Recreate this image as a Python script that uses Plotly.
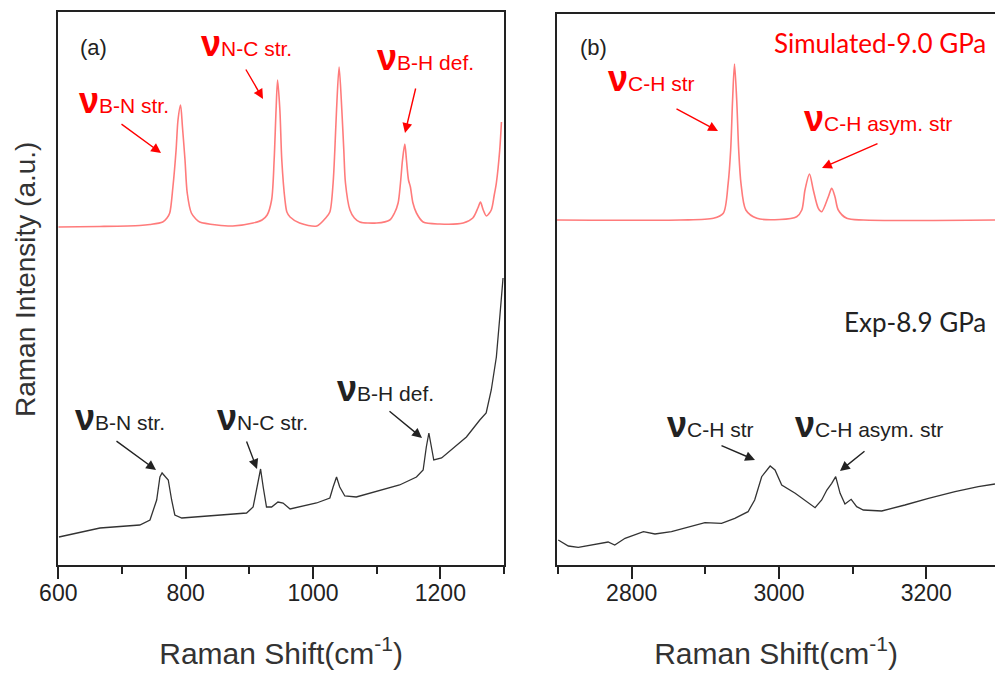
import plotly.graph_objects as go

# ---- spectra (Raman shift in cm^-1, intensity in arbitrary units) ----
# (a) low-frequency region
sim_a_shift = [600, 665, 728, 744, 764, 770.7, 775, 780, 785, 788, 792, 795, 799, 802.5, 809, 816,
               822, 849, 874, 906, 920, 928, 935, 939, 942, 944.4, 948, 951, 956, 959, 964, 979,
               1006, 1020, 1026.5, 1031.6, 1034.3, 1037, 1041, 1045.3, 1048.4, 1051, 1058, 1065,
               1073.5, 1100, 1120.6, 1128, 1133.7, 1137.4, 1140.6, 1144.2, 1146.8, 1150, 1153,
               1157, 1162.5, 1173, 1199, 1236, 1251, 1259, 1263, 1267.4, 1272.4, 1280, 1284.7,
               1288, 1293.3, 1296]
sim_a_int = [338, 338.5, 339.5, 340.5, 343, 347, 352, 378, 415, 445, 460, 438, 405, 372, 352, 346,
             343, 340, 339, 342, 345, 350, 365, 405, 455, 485, 455, 405, 365, 353, 348, 342,
             339, 347, 353, 382, 415, 455, 498, 455, 415, 382, 355, 347,
             343, 342, 345, 352, 362, 382, 405, 421, 405, 385, 378,
             362, 352, 343, 341, 342, 347, 357, 363, 355, 349, 355, 370,
             382, 415, 443]

exp_a_shift = [601, 665.5, 728, 744, 754.5, 759.6, 763, 768.6, 772.7, 778, 783, 794, 848.6, 895.7,
               906, 912.4, 917.7, 921.8, 927, 935, 945, 953, 964, 1005.6, 1026.5, 1031.6, 1037,
               1042, 1050, 1068, 1110, 1136, 1162.5, 1173, 1178, 1182, 1186, 1189.7, 1202, 1220,
               1241, 1262, 1272, 1280, 1288, 1293, 1296, 1298.5]
exp_a_int = [28, 37, 40, 45, 65, 88, 92, 88, 85, 65, 50, 47, 50, 52,
             58, 78, 96, 78, 58, 58, 63, 62, 56, 62, 67, 78, 88,
             78, 69, 68, 75, 80, 88, 95, 118, 132, 118, 105, 107, 117,
             128, 145, 152, 175, 208, 245, 265, 287]

# (b) C-H stretching region
sim_b_shift = [2698.6, 2865.6, 2911, 2924.4, 2931, 2934.4, 2937, 2939.6, 2942.6, 2945.3, 2948.4,
               2955, 2970, 3001, 3024, 3031, 3035.3, 3041.4, 3046.6, 3053.4, 3058, 3067, 3071.6,
               3076, 3080.5, 3092, 3114.5, 3293.3]
sim_b_int = [345, 345, 346.7, 351.7, 381.7, 415, 465, 501, 465, 415, 381.7,
             355, 346.7, 345.5, 348.3, 355, 375, 391, 375, 356.7, 353.3, 368.3, 376.7,
             368.3, 355, 346.7, 345, 345]

exp_b_shift = [2700.3, 2714, 2727.5, 2750, 2768, 2777, 2791, 2816, 2831.6, 2854, 2877, 2899.5,
               2922, 2940, 2958, 2967, 2976.5, 2988, 2994.6, 3003.7, 3022, 3040, 3049, 3058,
               3065, 3071.6, 3077, 3083, 3089.6, 3098, 3105.5, 3114.5, 3139.5, 3171, 3203,
               3239, 3270.6, 3293.3]
exp_b_int = [25, 19, 17.7, 21, 23, 20, 26.7, 33.3, 31, 33.3, 37.7, 42.3,
             41.7, 46.7, 53.3, 65, 88.3, 99, 95, 80, 71.7, 61.7, 57.3, 65,
             75, 81.7, 88.3, 71.7, 61, 65.7, 58.3, 55, 54, 60, 66.7,
             73.3, 78.3, 81]

# ---- styling ----
W, H = 995, 673
SIM_COLOR = "#ff7b7b"
EXP_COLOR = "#333333"
RED = "#ff0000"
INK = "#222222"
ARIAL = "Liberation Sans, Arial, sans-serif"
CALIBRI = "Lato, Carlito, sans-serif"

fig = go.Figure()
fig.add_trace(go.Scatter(x=sim_a_shift, y=sim_a_int, mode="lines", xaxis="x", yaxis="y",
                         line=dict(color=SIM_COLOR, width=1.6, shape="spline", smoothing=0.8)))
fig.add_trace(go.Scatter(x=exp_a_shift, y=exp_a_int, mode="lines", xaxis="x", yaxis="y",
                         line=dict(color=EXP_COLOR, width=1.3)))
fig.add_trace(go.Scatter(x=sim_b_shift, y=sim_b_int, mode="lines", xaxis="x2", yaxis="y2",
                         line=dict(color=SIM_COLOR, width=1.6, shape="spline", smoothing=0.8)))
fig.add_trace(go.Scatter(x=exp_b_shift, y=exp_b_int, mode="lines", xaxis="x2", yaxis="y2",
                         line=dict(color=EXP_COLOR, width=1.3)))


def px(x):
    return x / W


def py(y):
    return 1 - y / H


xcommon = dict(showline=True, linecolor=INK, linewidth=2, mirror=True, ticks="outside",
               ticklen=12, tickwidth=1.5, tickcolor=INK, showgrid=False, zeroline=False,
               automargin=False, dtick=200, ticklabelstandoff=-6,
               tickfont=dict(family=ARIAL, size=23, color=INK),
               minor=dict(dtick=100, ticks="outside", ticklen=7, tickwidth=1.5, tickcolor=INK),
               title=dict(text="Raman Shift(cm<sup>-1</sup>)", standoff=38,
                          font=dict(family=ARIAL, size=30, color="#333333")))
ycommon = dict(showline=True, linecolor=INK, linewidth=2, showticklabels=False, ticks="",
               showgrid=False, zeroline=False, automargin=False)

fig.update_layout(
    width=W, height=H, autosize=False,
    margin=dict(l=0, r=0, t=0, b=0, pad=0, autoexpand=False),
    paper_bgcolor="white", plot_bgcolor="white", showlegend=False,
    xaxis=dict(xcommon, domain=[px(58.3), px(504)], range=[600, 1300], tick0=600, anchor="y"),
    yaxis=dict(ycommon, domain=[py(565), py(12)], range=[0, 553], mirror=True, anchor="x"),
    xaxis2=dict(xcommon, domain=[px(557), 1.0], range=[2698.6, 3293.3], tick0=2800, anchor="y2"),
    yaxis2=dict(ycommon, domain=[py(565), py(14)], range=[0, 551], mirror=False, anchor="x2"),
)

annotations = []


def add_text(text, x, y, color, size, family=ARIAL, xanchor="left", yanchor="middle"):
    annotations.append(dict(text=text, x=px(x), y=py(y), xref="paper", yref="paper",
                            showarrow=False, xanchor=xanchor, yanchor=yanchor,
                            font=dict(family=family, size=size, color=color)))


def mode_label(sub, x, baseline, color):
    text = ("<b><span style='font-size:36px'>ν</span></b>"
            "<span style='font-size:21px'>%s</span>" % sub)
    annotations.append(dict(text=text, x=px(x), y=py(baseline + 8), xref="paper", yref="paper",
                            showarrow=False, xanchor="left", yanchor="bottom",
                            font=dict(family=ARIAL, size=21, color=color)))


def arrow(tail, tip, color):
    annotations.append(dict(text="", x=px(tip[0]), y=py(tip[1]), xref="paper", yref="paper",
                            ax=tail[0] - tip[0], ay=tail[1] - tip[1], axref="pixel", ayref="pixel",
                            showarrow=True, arrowhead=2, arrowsize=1.4, arrowwidth=1.4,
                            arrowcolor=color, standoff=0))


# panel tags and sample labels
add_text("(a)", 93, 48, INK, 22, xanchor="center")
add_text("(b)", 593, 48, INK, 22, xanchor="center")
add_text("Simulated-9.0 GPa", 988, 43, RED, 26, family=CALIBRI, xanchor="right")
add_text("Exp-8.9 GPa", 988, 322, INK, 26, family=CALIBRI, xanchor="right")

# mode assignments, simulated (red)
mode_label("B-N str.", 77, 115, RED)
mode_label("N-C str.", 199, 58, RED)
mode_label("B-H def.", 375, 72, RED)
mode_label("C-H str", 606, 93, RED)
mode_label("C-H asym. str", 802, 133, RED)
arrow((120, 123), (161, 153), RED)
arrow((245, 68), (263, 99), RED)
arrow((416, 87), (405, 133), RED)
arrow((675, 108), (718, 131), RED)
arrow((879, 143), (822, 168), RED)

# mode assignments, experiment (black)
mode_label("B-N str.", 73, 432, INK)
mode_label("N-C str.", 215, 432, INK)
mode_label("B-H def.", 335, 403, INK)
mode_label("C-H str", 665, 439, INK)
mode_label("C-H asym. str", 793, 439, INK)
arrow((115, 440), (156, 470), INK)
arrow((246, 440), (257, 469), INK)
arrow((388, 410), (422, 438), INK)
arrow((720, 445), (755, 460), INK)
arrow((866, 450), (840, 471), INK)

# shared intensity axis title
add_text("Raman Intensity (a.u.)", 25, 280, "#333333", 28, xanchor="center")
annotations[-1]["textangle"] = -90

fig.update_layout(annotations=annotations)
fig.write_html("out.html")
